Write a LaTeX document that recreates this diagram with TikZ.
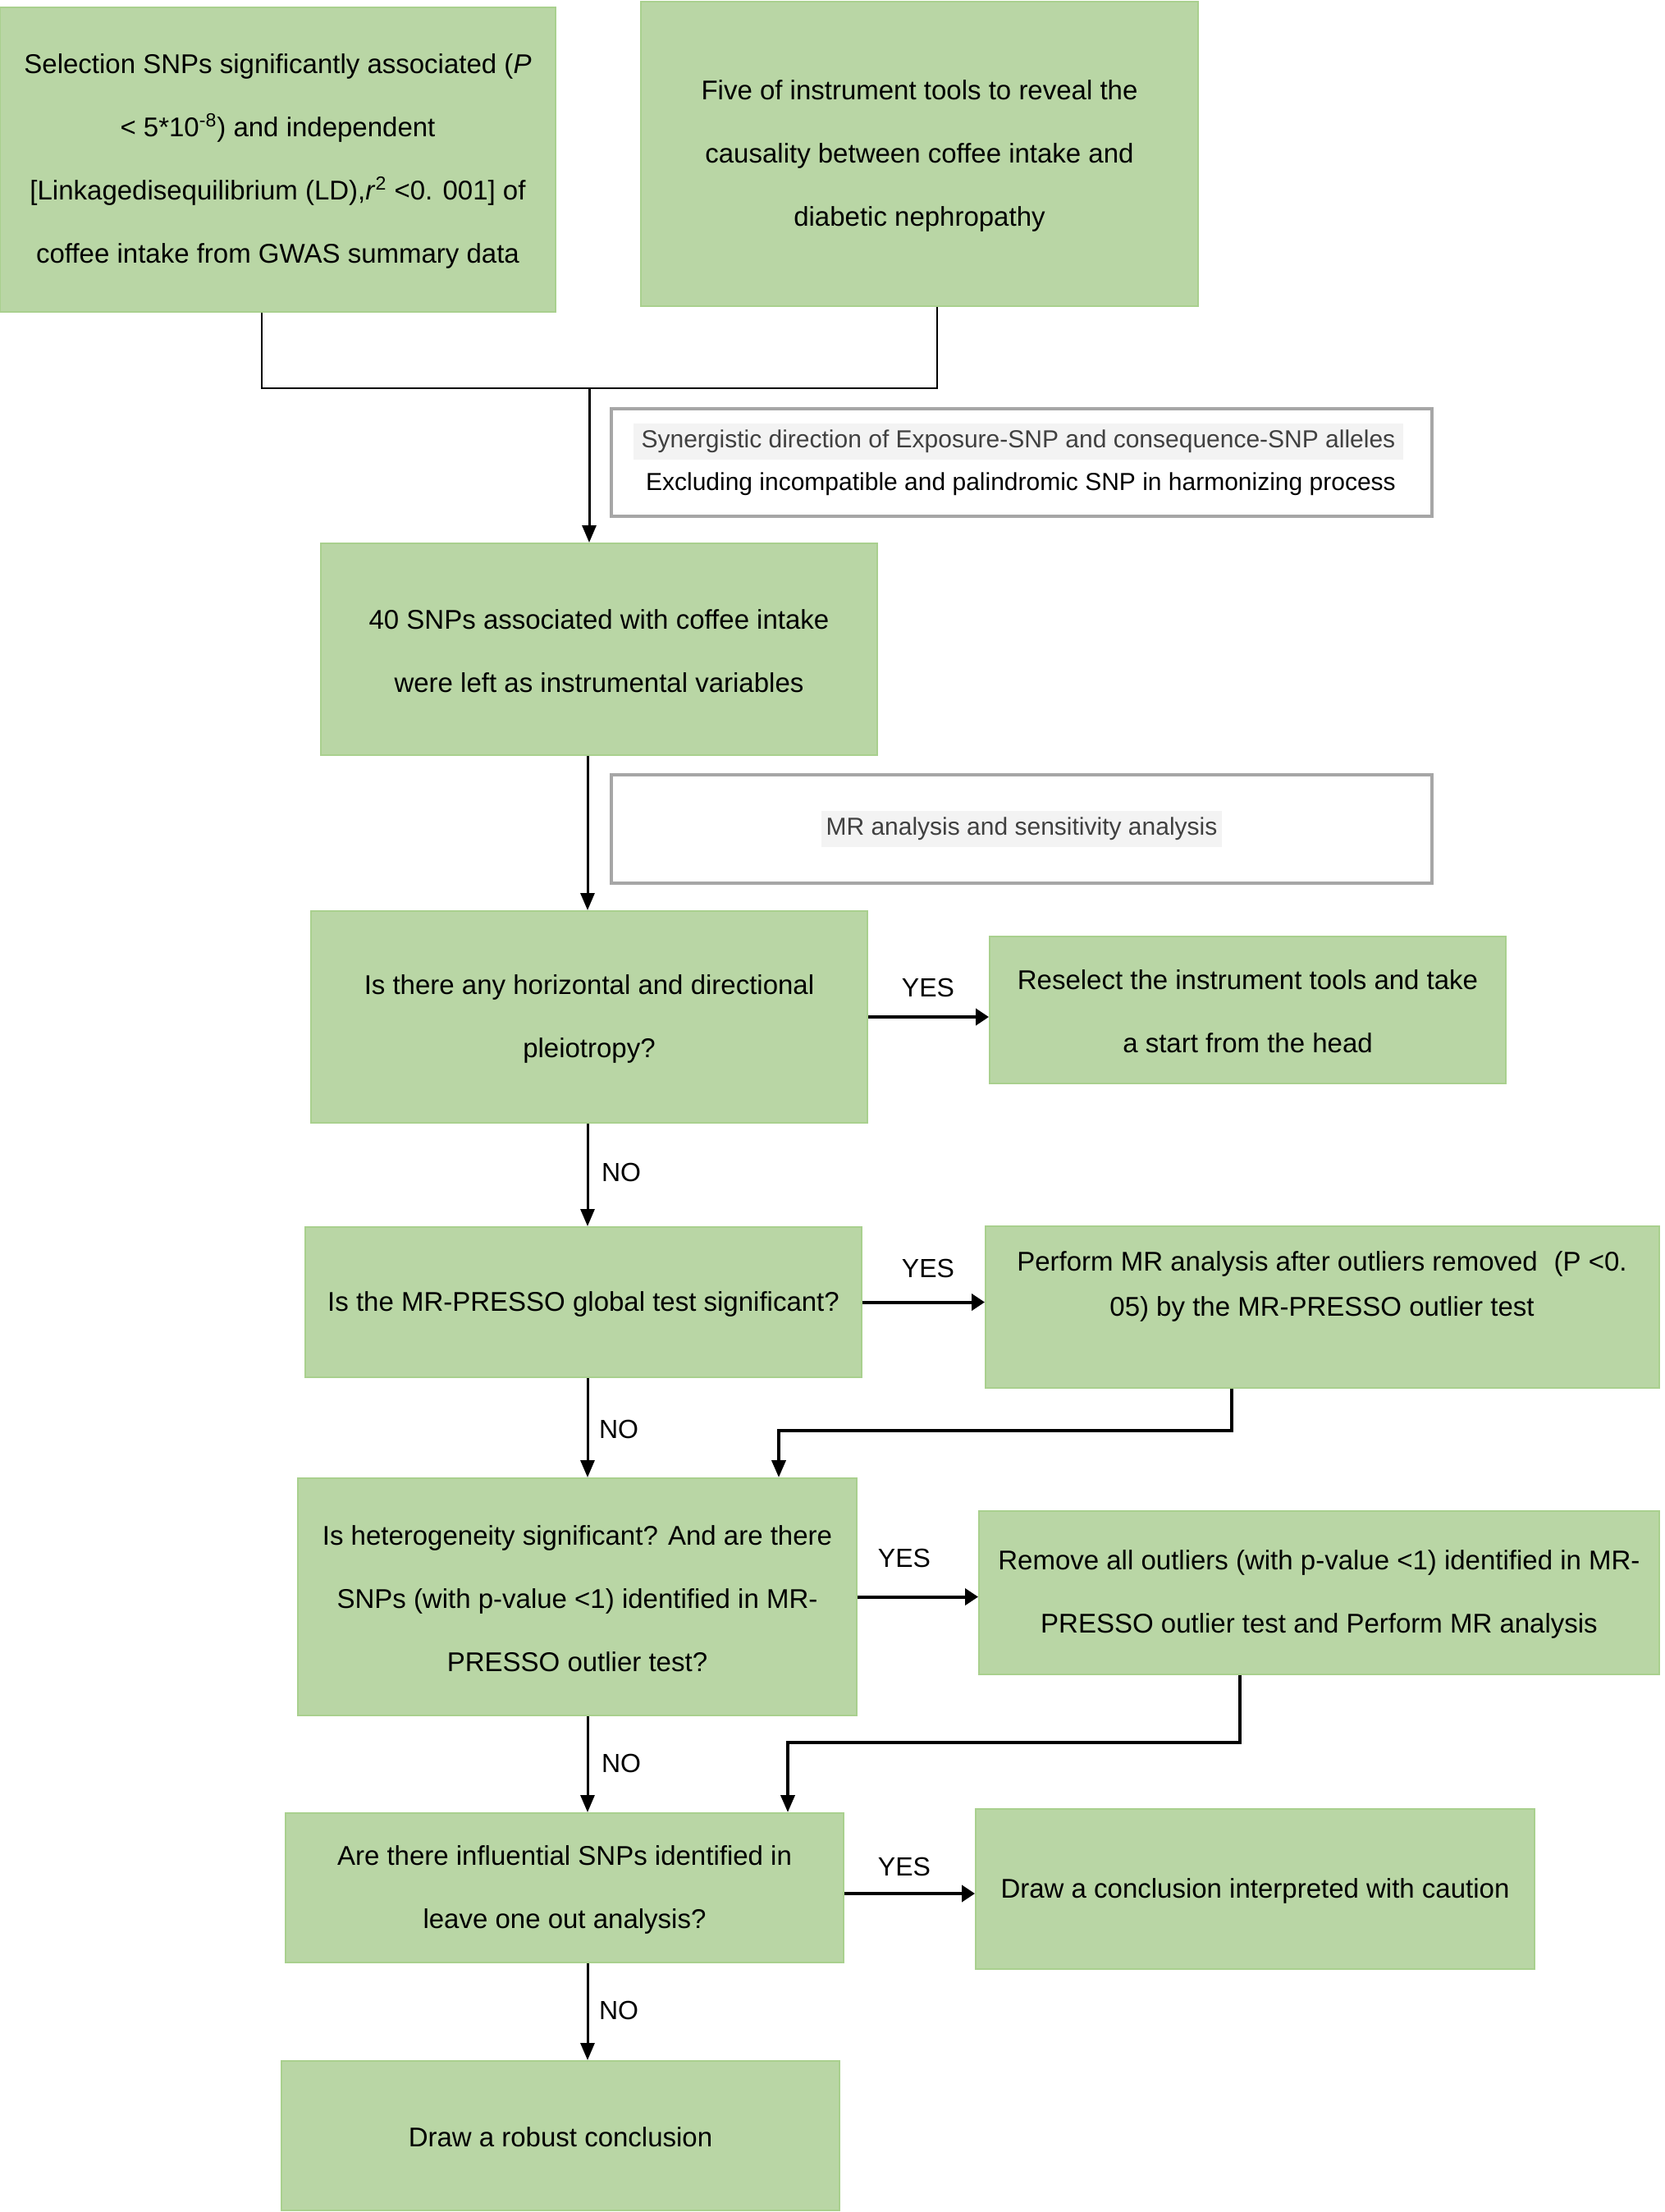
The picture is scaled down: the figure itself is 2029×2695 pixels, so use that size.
\documentclass[tikz,border=0pt]{standalone}
\usepackage{fontspec}
\setmainfont{Liberation Sans}
\usetikzlibrary{arrows.meta,fit}
\definecolor{boxfill}{RGB}{185,214,165}
\definecolor{boxline}{RGB}{169,208,142}
\definecolor{greyline}{RGB}{166,166,166}
\definecolor{hl}{RGB}{243,243,243}
\definecolor{greytext}{RGB}{64,64,64}
\begin{document}
\begin{tikzpicture}[x=0.5pt,y=-0.5pt,
 gbox/.style={draw=boxline, fill=boxfill, line width=1pt, inner sep=0pt},
 wbox/.style={draw=greyline, line width=2pt, inner sep=0pt},
 txt/.style={align=center, font=\fontsize{16.5pt}{38.5pt}\selectfont, inner sep=0pt},
 stxt/.style={align=center, font=\fontsize{15pt}{19pt}\selectfont, inner sep=0pt},
 lbl/.style={font=\fontsize{16pt}{19pt}\selectfont, inner sep=0pt},
 thinline/.style={line width=1pt},
 varrow/.style={line width=1.5pt, -{Triangle[length=10.5pt,width=8.5pt]}},
 harrow/.style={line width=2pt, -{Triangle[length=8pt,width=10pt]}},
 elbow/.style={line width=1.9pt, -{Triangle[length=10.5pt,width=8.5pt]}},
]
\useasboundingbox (0,0) rectangle (2029,2695);
% boxes
\node[gbox, fit={(0,9)(677,380)}] (b1) {};
\node[gbox, fit={(781,2)(1460,373)}] (b2) {};
\node[wbox, fit={(745,498)(1745,629)}] (syn) {};
\node[gbox, fit={(391,662)(1069,920)}] (b3) {};
\node[wbox, fit={(745,944)(1745,1076)}] (mr) {};
\node[gbox, fit={(379,1110)(1057,1368)}] (b4) {};
\node[gbox, fit={(1206,1141)(1835,1320)}] (b5) {};
\node[gbox, fit={(372,1495)(1050,1678)}] (b6) {};
\node[gbox, fit={(1201,1494)(2022,1691)}] (b7) {};
\node[gbox, fit={(363,1801)(1044,2090)}] (b8) {};
\node[gbox, fit={(1193,1841)(2022,2040)}] (b9) {};
\node[gbox, fit={(348,2209)(1028,2391)}] (b10) {};
\node[gbox, fit={(1189,2204)(1870,2399)}] (b11) {};
\node[gbox, fit={(343,2511)(1023,2693)}] (b12) {};
% texts
\node[txt] (t1) at ([yshift=-1pt]b1.center) {Selection SNPs significantly associated (\textit{P}\\ < 5*10\textsuperscript{-8}) and independent\\ {[}Linkagedisequilibrium (LD),\textit{r}\textsuperscript{2} <0. 001] of\\ coffee intake from GWAS summary data};
\node[txt] (t2) at ([yshift=-1pt]b2.center) {Five of instrument tools to reveal the\\ causality between coffee intake and\\ diabetic nephropathy};
\node[stxt, fill=hl, text=greytext, inner xsep=5pt, inner ysep=4pt] (s1) at (1241,538) {Synergistic direction of Exposure-SNP and consequence-SNP alleles};
\node[stxt] (s2) at (1244,590) {Excluding incompatible and palindromic SNP in harmonizing process};
\node[txt] (t3) at ([yshift=-1pt]b3.center) {40 SNPs associated with coffee intake\\ were left as instrumental variables};
\node[stxt, fill=hl, text=greytext, inner xsep=3pt, inner ysep=4pt] (m1) at (mr.center) {MR analysis and sensitivity analysis};
\node[txt] (t4) at ([yshift=-1pt]b4.center) {Is there any horizontal and directional\\ pleiotropy?};
\node[txt] (t5) at ([yshift=-1pt]b5.center) {Reselect the instrument tools and take\\ a start from the head};
\node[txt] (t6) at ([yshift=-1pt]b6.center) {Is the MR-PRESSO global test significant?};
\node[txt, font=\fontsize{16.5pt}{27.5pt}\selectfont] (t7) at (1611,1567) {Perform MR analysis after outliers removed\hspace{0.6em}(P <0.\\ 05) by the MR-PRESSO outlier test};
\node[txt] (t8) at ([yshift=-1pt]b8.center) {Is heterogeneity significant? And are there\\ SNPs (with p-value <1) identified in MR-\\ PRESSO outlier test?};
\node[txt] (t9) at ([yshift=-1pt]b9.center) {Remove all outliers (with p-value <1) identified in MR-\\ PRESSO outlier test and Perform MR analysis};
\node[txt] (t10) at ([yshift=-1pt]b10.center) {Are there influential SNPs identified in\\ leave one out analysis?};
\node[txt] (t11) at ([yshift=-1pt]b11.center) {Draw a conclusion interpreted with caution};
\node[txt] (t12) at ([yshift=-1pt]b12.center) {Draw a robust conclusion};
% connectors
\coordinate (m) at (718,473);
\coordinate (col) at (716,0);
\draw[thinline] ([xshift=160pt]b1.south west) |- (m) -| ([xshift=181pt]b2.south west);
\draw[varrow] (m) -- (m |- b3.north);
\draw[varrow] (b3.south -| col) -- (b4.north -| col);
\draw[varrow] (b4.south -| col) -- (b6.north -| col);
\draw[varrow] (b6.south -| col) -- (b8.north -| col);
\draw[varrow] (b8.south -| col) -- (b10.north -| col);
\draw[varrow] (b10.south -| col) -- (b12.north -| col);
\draw[harrow] (b4.east) -- (b4.east -| b5.west);
\draw[harrow] (b6.east) -- (b6.east -| b7.west);
\draw[harrow] (b8.east) -- (b8.east -| b9.west);
\draw[harrow] ([yshift=-3.5pt]b10.east) -- ([yshift=-3.5pt]b10.east -| b11.west);
\coordinate (e1x) at (1501,0);
\coordinate (e1) at (949,1743);
\draw[elbow] (b7.south -| e1x) |- (e1) -- (e1 |- b8.north);
\coordinate (e2x) at (1511,0);
\coordinate (e2) at (960,2123);
\draw[elbow] (b9.south -| e2x) |- (e2) -- (e2 |- b10.north);
% labels
\node[lbl] (y1) at (1131,1203) {YES};
\node[lbl] (y2) at (1131,1545) {YES};
\node[lbl] (y3) at (1102,1898) {YES};
\node[lbl] (y4) at (1102,2274) {YES};
\node[lbl] (n1) at (757,1428) {NO};
\node[lbl] (n2) at (754,1741) {NO};
\node[lbl] (n3) at (757,2148) {NO};
\node[lbl] (n4) at (754,2449) {NO};
\end{tikzpicture}
\end{document}
